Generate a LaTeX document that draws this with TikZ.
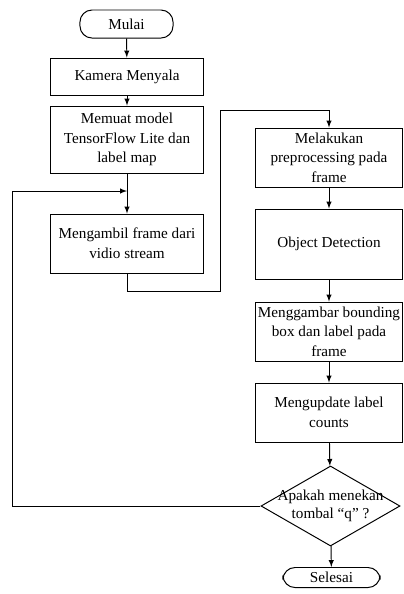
\documentclass[tikz,border=0pt]{standalone}
\usepackage{fontspec}
\setmainfont{Liberation Serif}
\usepackage{tikz}
\usetikzlibrary{shapes.geometric, positioning, arrows}

\begin{document}
\begin{tikzpicture}[x=0.025cm, y=-0.025cm, >=latex, line width=0.7pt,
    font=\rmfamily\fontsize{10.8}{14}\selectfont,
    proses/.style={draw, rectangle, align=center, inner sep=1pt, minimum width=3.8cm},
    prosesb/.style={proses, minimum width=3.65cm},
    terminal/.style={draw, rectangle, rounded corners=0.3cm, inner sep=1pt},
    keputusan/.style={draw, diamond, inner sep=0pt, minimum width=3.475cm, minimum height=2cm}]
    \useasboundingbox (0,0) rectangle (403,594);

    % kolom kiri
    \node[terminal, minimum width=2.325cm, minimum height=0.7cm] (mulai) at (126.5,24) {Mulai};
    \node[proses, minimum height=0.925cm] (kamera) at (127,76.5) {Kamera Menyala};
    \node[proses, minimum height=1.675cm] (memuat) at (127,139.5) {Memuat model\\TensorFlow Lite dan\\label map};
    \node[proses, minimum height=1.475cm] (ambil) at (127,243.5) {Mengambil frame dari\\vidio stream};

    % kolom kanan
    \node[prosesb, minimum height=1.475cm] (prepro) at (329,157.5) {Melakukan\\preprocessing pada\\frame};
    \node[prosesb, minimum height=1.75cm] (detect) at (329,244) {Object Detection};
    \node[prosesb, minimum height=1.475cm] (gambar) at (329,331.5) {Menggambar bounding\\box dan label pada\\frame};
    \node[prosesb, minimum height=1.475cm] (update) at (329,412.5) {Mengupdate label\\counts};
    \node[keputusan, label={center:\shortstack{Apakah menekan\\tombal “q” ?}}] (tanya) at (330.5,506) {};
    \node[terminal, minimum width=2.425cm, minimum height=0.5cm] (selesai) at (331.5,577.5) {Selesai};

    \coordinate (c1) at (220,291);
    \coordinate (c2) at (220,110);
    \coordinate (loopL) at (12,191);
    \coordinate (loopE) at (127,191);

    \path[->]
        (mulai) edge (kamera)
        (kamera) edge (memuat)
        (memuat) edge (ambil)
        (prepro) edge (detect)
        (detect) edge (gambar)
        (gambar) edge (update)
        (update) edge (tanya)
        (tanya) edge (selesai);

    \draw[->] (ambil) |- (c1) -- (c2) -| (prepro);
    \draw[->] (tanya) -| (loopL) -- (loopE);
\end{tikzpicture}
\end{document}
